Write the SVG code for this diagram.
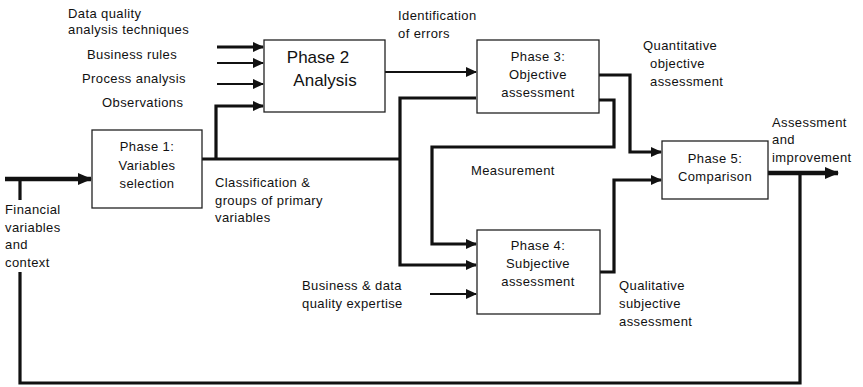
<svg xmlns="http://www.w3.org/2000/svg" width="863" height="387" viewBox="0 0 863 387">
<style>
text{font-family:"Liberation Sans",Arial,sans-serif;font-size:13px;letter-spacing:0.4px;fill:#111;}
.c{text-anchor:middle;}
.big{font-size:17px;letter-spacing:0;}
.box{fill:#fff;stroke:#222;stroke-width:1.3;}
.thick{fill:none;stroke:#111;stroke-width:3.2;}
.thin{fill:none;stroke:#111;stroke-width:1.8;}
.fat{fill:none;stroke:#111;stroke-width:4.5;}
</style>
<defs>
<marker id="ah" markerWidth="12" markerHeight="12" refX="10" refY="5" orient="auto" markerUnits="userSpaceOnUse">
<path d="M0,0 L11,5 L0,10 Z" fill="#111"/>
</marker>
<marker id="ahb" markerWidth="16" markerHeight="14" refX="13" refY="6" orient="auto" markerUnits="userSpaceOnUse">
<path d="M0,0 L14,6 L0,12 Z" fill="#111"/>
</marker>
</defs>
<rect width="863" height="387" fill="#fff"/>
<g id="connectors">
<line class="thick" x1="217" y1="47" x2="263" y2="47" marker-end="url(#ah)"/>
<line class="thin" x1="217" y1="63" x2="263" y2="63" marker-end="url(#ah)"/>
<line class="thin" x1="217" y1="84" x2="263" y2="84" marker-end="url(#ah)"/>
<polyline class="thick" points="216,160 216,106 263,106" marker-end="url(#ah)"/>
<line class="fat" x1="5" y1="179" x2="91" y2="179" marker-end="url(#ahb)"/>
<polyline class="thick" points="202,159 400,159"/>
<polyline class="thick" points="476,98 400,98 400,265 476,265" marker-end="url(#ah)"/>
<line class="thin" x1="385" y1="72" x2="476" y2="72" marker-end="url(#ah)"/>
<polyline class="thick" points="599,100 614,100 614,147 432,147 432,244 476,244" marker-end="url(#ah)"/>
<polyline class="thick" points="599,75 630,75 630,152 661,152" marker-end="url(#ah)"/>
<polyline class="thick" points="600,272 614,272 614,180 661,180" marker-end="url(#ah)"/>
<line class="thin" x1="430" y1="294" x2="476" y2="294" marker-end="url(#ah)"/>
<line class="fat" x1="768" y1="173" x2="838" y2="173" marker-end="url(#ahb)"/>
<polyline class="thick" points="800,173 800,383 20,383 20,272"/>
<line class="thick" x1="20" y1="179" x2="20" y2="200"/>
</g>
<g id="phase1">
<rect class="box" x="92" y="130" width="110" height="78"/>
<text class="c" x="147" y="151">Phase 1:</text>
<text class="c" x="147" y="170">Variables</text>
<text class="c" x="147" y="188">selection</text>
</g>
<g id="phase2">
<rect class="box" x="264" y="40" width="121" height="72"/>
<text class="c big" x="318" y="63">Phase 2</text>
<text class="c big" x="325" y="86">Analysis</text>
</g>
<g id="phase3">
<rect class="box" x="477" y="40" width="122" height="73"/>
<text class="c" x="538" y="61">Phase 3:</text>
<text class="c" x="538" y="79">Objective</text>
<text class="c" x="538" y="97">assessment</text>
</g>
<g id="phase4">
<rect class="box" x="477" y="230" width="123" height="84"/>
<text class="c" x="538" y="250">Phase 4:</text>
<text class="c" x="538" y="268">Subjective</text>
<text class="c" x="538" y="286">assessment</text>
</g>
<g id="phase5">
<rect class="box" x="662" y="141" width="106" height="58"/>
<text class="c" x="715" y="163">Phase 5:</text>
<text class="c" x="715" y="181">Comparison</text>
</g>
<g id="labels">
<text x="68" y="18">Data quality</text>
<text x="68" y="34">analysis techniques</text>
<text x="87" y="59">Business rules</text>
<text x="82" y="83">Process analysis</text>
<text x="102" y="107">Observations</text>
<text x="398" y="20">Identification</text>
<text x="398" y="38">of errors</text>
<text x="643" y="50">Quantitative</text>
<text x="650" y="68">objective</text>
<text x="650" y="86">assessment</text>
<text x="772" y="127">Assessment</text>
<text x="772" y="144">and</text>
<text x="772" y="162">improvement</text>
<text x="471" y="175">Measurement</text>
<text x="215" y="187">Classification &amp;</text>
<text x="215" y="205">groups of primary</text>
<text x="215" y="222">variables</text>
<text x="5" y="214">Financial</text>
<text x="5" y="232">variables</text>
<text x="5" y="249">and</text>
<text x="5" y="267">context</text>
<text x="302" y="290">Business &amp; data</text>
<text x="302" y="308">quality expertise</text>
<text x="619" y="290">Qualitative</text>
<text x="619" y="308">subjective</text>
<text x="619" y="326">assessment</text>
</g>
</svg>
